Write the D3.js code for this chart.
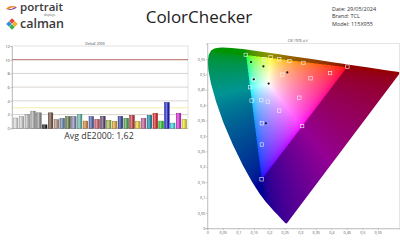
<!DOCTYPE html>
<html>
<head>
<meta charset="utf-8">
<script src="https://cdn.jsdelivr.net/npm/d3@7"></script>
<style>
  body { margin: 0; background: #fff; }
  svg { display: block; font-family: "Open Sans", sans-serif; }
</style>
</head>
<body>
<svg width="400" height="240"></svg>
<script>
// ---- bar chart data (dE2000 per patch) ----
const barColors = ['#dcdcdc', '#cdcdcd', '#b9b9b9', '#a3a3a3', '#8c8c8c', '#141414',
  '#6e4f3e', '#b08a76', '#5f7fa3', '#5a6d3c', '#8280b0', '#5fb8a6', '#d9802e', '#4a5aa8',
  '#c2505e', '#5b3b6c', '#9dba42', '#e0a430', '#2c3a96', '#469a4a', '#b92f36', '#e9c82a',
  '#bb5596', '#0a88a6', '#dd1d1d', '#1ec41e', '#1616c8', '#35d2e2', '#d222d2', '#e6e22a'];
const dE = [1.5, 1.7, 2.0, 2.5, 2.25, 0.5, 2.25, 1.25, 1.45, 1.7, 1.7, 2.05, 1.05, 1.7, 1.3,
  1.75, 1.15, 1.0, 1.75, 1.45, 1.9, 1.0, 1.45, 1.9, 2.2, 1.05, 3.75, 0.75, 2.2, 1.3];
const barTicks = [0, 2, 4, 6, 8, 10, 12];
const avgLabel = 'Avg dE2000: 1,62';

// ---- CIE chart data ----
// CIE 1931 spectral locus (x, y), 380..700 nm
const locusX = [0.1741, 0.1740, 0.1738, 0.1736, 0.1733, 0.1730, 0.1726, 0.1721, 0.1714, 0.1703,
  0.1689, 0.1669, 0.1644, 0.1611, 0.1566, 0.1510, 0.1440, 0.1355, 0.1241, 0.1096, 0.0913,
  0.0687, 0.0454, 0.0235, 0.0082, 0.0039, 0.0139, 0.0389, 0.0743, 0.1142, 0.1547, 0.1929,
  0.2296, 0.2658, 0.3016, 0.3373, 0.3731, 0.4087, 0.4441, 0.4788, 0.5125, 0.5448, 0.5752,
  0.6029, 0.6270, 0.6482, 0.6658, 0.6801, 0.6915, 0.7006, 0.7079, 0.7140, 0.7190, 0.7230,
  0.7260, 0.7283, 0.7300, 0.7311, 0.7320, 0.7334, 0.7344, 0.7347];
const locusY = [0.0050, 0.0050, 0.0049, 0.0049, 0.0048, 0.0048, 0.0048, 0.0048, 0.0051, 0.0058,
  0.0069, 0.0086, 0.0109, 0.0138, 0.0177, 0.0227, 0.0297, 0.0399, 0.0578, 0.0868, 0.1327,
  0.2007, 0.2950, 0.4127, 0.5384, 0.6548, 0.7502, 0.8120, 0.8338, 0.8262, 0.8059, 0.7816,
  0.7543, 0.7243, 0.6923, 0.6589, 0.6245, 0.5896, 0.5547, 0.5202, 0.4866, 0.4544, 0.4242,
  0.3965, 0.3725, 0.3514, 0.3340, 0.3197, 0.3083, 0.2993, 0.2920, 0.2859, 0.2809, 0.2770,
  0.2740, 0.2717, 0.2700, 0.2689, 0.2680, 0.2666, 0.2656, 0.2653];
const gamutUV = [[0.4507, 0.5229], [0.1250, 0.5625], [0.1754, 0.1579]];
const targetsUV = [[0.124, 0.563], [0.184, 0.549], [0.204, 0.555], [0.232, 0.549], [0.265, 0.543],
  [0.310, 0.537], [0.452, 0.525], [0.396, 0.504], [0.333, 0.487], [0.242, 0.499], [0.197, 0.469],
  [0.138, 0.458], [0.149, 0.483], [0.143, 0.415], [0.174, 0.416], [0.195, 0.411], [0.297, 0.424],
  [0.232, 0.382], [0.176, 0.341], [0.306, 0.332], [0.176, 0.272], [0.175, 0.159]];
const measuredUV = [[0.141, 0.540], [0.181, 0.526], [0.258, 0.506], [0.189, 0.341],
  [0.198, 0.470], [0.150, 0.484]];
const cieXTicks = [0, 0.05, 0.1, 0.15, 0.2, 0.25, 0.3, 0.35, 0.4, 0.45, 0.5, 0.55];
const cieYTicks = [0, 0.05, 0.1, 0.15, 0.2, 0.25, 0.3, 0.35, 0.4, 0.45, 0.5, 0.55];

const svg = d3.select('svg');
const comma = d => String(d).replace('.', ',');

// ---- header ----
const logo = svg.append('g');
logo.append('path')
    .attr('d', 'M6,8.5 Q11,4.5 17,7 Q11,6.5 8,9.5 Z')
    .style('fill', '#f08a24');
logo.append('path')
    .attr('d', 'M17,7.5 Q12,11.5 6,9 Q12,9.8 15,7 Z')
    .style('fill', '#7b3fa0');
logo.append('text')
    .attr('x', 20).attr('y', 11)
    .style('font-size', '11.5px').style('font-weight', 600).style('fill', '#3a3a3a')
    .text('portrait');
logo.append('text')
    .attr('x', 44).attr('y', 15.5)
    .style('font-size', '3px').style('fill', '#666')
    .text('displays');
const dia = [['#e9473a', 12, 21], ['#f5b324', 15, 24], ['#3fae4a', 12, 27], ['#2f8fd6', 9, 24]];
logo.selectAll('rect.dia')
    .data(dia)
    .enter()
    .append('rect')
    .attr('class', 'dia')
    .attr('x', d => d[1] - 2).attr('y', d => d[2] - 2)
    .attr('width', 4).attr('height', 4)
    .attr('transform', d => `rotate(45, ${d[1]}, ${d[2]})`)
    .style('fill', d => d[0]);
logo.append('text')
    .attr('x', 20).attr('y', 28)
    .style('font-size', '12.5px').style('font-weight', 600).style('fill', '#3a3a3a')
    .text('calman');

svg.append('text')
    .attr('x', 199).attr('y', 23)
    .attr('text-anchor', 'middle')
    .style('font-size', '17px').style('fill', '#222')
    .text('ColorChecker');

const info = ['Date: 29/05/2024', 'Brand: TCL', 'Model: 115X955'];
svg.selectAll('text.info')
    .data(info)
    .enter()
    .append('text')
    .attr('class', 'info')
    .attr('x', 332)
    .attr('y', (d, i) => 11 + i * 7.3)
    .style('font-size', '5.5px').style('fill', '#333')
    .text(d => d);

// ---- bar chart ----
const bx = d3.scaleBand()
    .domain(d3.range(dE.length))
    .range([12.5, 187.5])
    .paddingInner(0.22)
    .paddingOuter(0.15);
const by = d3.scaleLinear()
    .domain([0, 12])
    .range([128.3, 46]);

const defs = svg.append('defs');
const gloss = defs.append('linearGradient').attr('id', 'gloss');
gloss.append('stop').attr('offset', '0%').attr('stop-color', '#fff').attr('stop-opacity', 0.05);
gloss.append('stop').attr('offset', '40%').attr('stop-color', '#fff').attr('stop-opacity', 0.45);
gloss.append('stop').attr('offset', '100%').attr('stop-color', '#000').attr('stop-opacity', 0.12);

svg.append('rect')
    .attr('x', 12).attr('y', by(12))
    .attr('width', 176).attr('height', by(0) - by(12))
    .style('fill', 'none').style('stroke', '#d0d0d0').style('stroke-width', 0.6);

svg.selectAll('line.grid')
    .data([2, 4, 6, 8])
    .enter()
    .append('line')
    .attr('class', 'grid')
    .attr('x1', 12).attr('x2', 188)
    .attr('y1', d => by(d)).attr('y2', d => by(d))
    .style('stroke', '#c9c2bc').style('stroke-width', 0.7);
svg.append('line')
    .attr('x1', 12).attr('x2', 188)
    .attr('y1', by(10)).attr('y2', by(10))
    .style('stroke', '#a8574e').style('stroke-width', 0.9);
svg.append('line')
    .attr('x1', 12).attr('x2', 188)
    .attr('y1', by(3)).attr('y2', by(3))
    .style('stroke', '#f2ee9a').style('stroke-width', 0.8);

const yAxis = d3.axisLeft(by)
    .tickValues(barTicks)
    .tickSize(1.5)
    .tickFormat(d => d);
const yG = svg.append('g')
    .attr('transform', 'translate(12, 0)')
    .call(yAxis);
yG.select('.domain').style('stroke', '#999').style('stroke-width', 0.5);
yG.selectAll('.tick line').style('stroke', '#999').style('stroke-width', 0.5);
yG.selectAll('.tick text')
    .attr('x', -2)
    .style('font-size', '4.2px').style('fill', '#555').style('font-family', '"Open Sans", sans-serif');

svg.append('line')
    .attr('x1', 12).attr('x2', 188)
    .attr('y1', by(0)).attr('y2', by(0))
    .style('stroke', '#999').style('stroke-width', 0.6);

const bars = svg.selectAll('g.bar')
    .data(dE)
    .enter()
    .append('g')
    .attr('class', 'bar');
bars.append('rect')
    .attr('x', (d, i) => bx(i))
    .attr('y', d => by(d))
    .attr('width', bx.bandwidth())
    .attr('height', d => by(0) - by(d))
    .style('fill', (d, i) => barColors[i])
    .style('stroke', (d, i) => d3.color(barColors[i]).darker(1.2))
    .style('stroke-width', 0.5);
bars.append('rect')
    .attr('x', (d, i) => bx(i))
    .attr('y', d => by(d))
    .attr('width', bx.bandwidth())
    .attr('height', d => by(0) - by(d))
    .style('fill', 'url(#gloss)');

svg.append('text')
    .attr('x', 95).attr('y', 45)
    .attr('text-anchor', 'middle')
    .style('font-size', '3.5px').style('fill', '#444')
    .text('DeltaE 2000');

svg.append('text')
    .attr('x', 99).attr('y', 138.5)
    .attr('text-anchor', 'middle')
    .style('font-size', '8.8px').style('fill', '#333')
    .text(avgLabel);

// ---- CIE 1976 u'v' chart ----
const cx = d3.scaleLinear().domain([0, 0.62]).range([207.3, 399.5]);
const cy = d3.scaleLinear().domain([0, 0.6]).range([228.3, 43.5]);

const toUV = (x, y) => {
  const den = -2 * x + 12 * y + 3;
  return [4 * x / den, 9 * y / den];
};
const locusUV = locusX.map((x, i) => toUV(x, locusY[i]));

defs.append('clipPath').attr('id', 'locusClip')
    .append('path')
    .attr('d', d3.line().x(d => cx(d[0])).y(d => cy(d[1]))(locusUV) + 'Z');
defs.append('clipPath').attr('id', 'plotClip')
    .append('rect')
    .attr('x', cx(0)).attr('y', cy(0.6))
    .attr('width', cx(0.62) - cx(0)).attr('height', cy(0) - cy(0.6));

// colour field of the horseshoe, computed per pixel from the scales
const x0 = Math.floor(cx(0)), y0 = Math.floor(cy(0.6));
const w = Math.ceil(cx(0.62)) - x0, h = Math.ceil(cy(0)) - y0;
const canvas = document.createElement('canvas');
canvas.width = w * 2; canvas.height = h * 2;
const ctx = canvas.getContext('2d');
const img = ctx.createImageData(canvas.width, canvas.height);
const gamutPx = gamutUV.map(d => [d[0], d[1]]);
const enc = c => c <= 0.0031308 ? 12.92 * c : 1.055 * Math.pow(c, 1 / 2.4) - 0.055;
for (let j = 0; j < canvas.height; j++) {
  for (let i = 0; i < canvas.width; i++) {
    const u = cx.invert(x0 + (i + 0.5) / 2);
    const v = Math.max(cy.invert(y0 + (j + 0.5) / 2), 0.004);
    const den = 6 * u - 16 * v + 12;
    const xx = 9 * u / den, yy = 4 * v / den;
    const X = xx / yy, Z = (1 - xx - yy) / yy;
    let r = Math.max(0, 3.2406 * X - 1.5372 - 0.4986 * Z);
    let g = Math.max(0, -0.9689 * X + 1.8758 + 0.0415 * Z);
    let b = Math.max(0, 0.0557 * X - 0.2040 + 1.0570 * Z);
    const m = Math.max(r, g, b) || 1;
    const k = d3.polygonContains(gamutPx, [u, v]) ? 1 : 0.58;
    const p = (j * canvas.width + i) * 4;
    img.data[p] = 255 * enc(r / m) * k;
    img.data[p + 1] = 255 * enc(g / m) * k;
    img.data[p + 2] = 255 * enc(b / m) * k;
    img.data[p + 3] = 255;
  }
}
ctx.putImageData(img, 0, 0);

const cie = svg.append('g').attr('clip-path', 'url(#plotClip)');
cie.append('image')
    .attr('href', canvas.toDataURL())
    .attr('x', x0).attr('y', y0)
    .attr('width', w).attr('height', h)
    .attr('preserveAspectRatio', 'none')
    .attr('clip-path', 'url(#locusClip)');

cie.selectAll('rect.target')
    .data(targetsUV)
    .enter()
    .append('rect')
    .attr('class', 'target')
    .attr('x', d => cx(d[0]) - 1.7)
    .attr('y', d => cy(d[1]) - 1.7)
    .attr('width', 3.4).attr('height', 3.4)
    .style('fill', 'none').style('stroke', '#f4f4f4').style('stroke-width', 0.6);
cie.selectAll('circle.meas')
    .data(measuredUV)
    .enter()
    .append('circle')
    .attr('class', 'meas')
    .attr('cx', d => cx(d[0]))
    .attr('cy', d => cy(d[1]))
    .attr('r', 1.1)
    .style('fill', '#111');

svg.append('rect')
    .attr('x', cx(0)).attr('y', cy(0.6))
    .attr('width', cx(0.62) - cx(0)).attr('height', cy(0) - cy(0.6))
    .style('fill', 'none').style('stroke', '#d4d4d4').style('stroke-width', 0.6);

const cxAxis = d3.axisBottom(cx).tickValues(cieXTicks).tickSize(1.5).tickFormat(comma);
const cxG = svg.append('g').attr('transform', `translate(0, ${cy(0)})`).call(cxAxis);
const cyAxis = d3.axisLeft(cy).tickValues(cieYTicks).tickSize(1.5).tickFormat(comma);
const cyG = svg.append('g').attr('transform', `translate(${cx(0)}, 0)`).call(cyAxis);
[cxG, cyG].forEach(g => {
  g.select('.domain').style('stroke', '#999').style('stroke-width', 0.5);
  g.selectAll('.tick line').style('stroke', '#999').style('stroke-width', 0.5);
  g.selectAll('.tick text')
      .style('font-size', '3.8px').style('fill', '#555')
      .style('font-family', '"Open Sans", sans-serif');
});
cxG.selectAll('.tick text').attr('y', 3);
cyG.selectAll('.tick text').attr('x', -2);

svg.append('text')
    .attr('x', 298).attr('y', 42)
    .attr('text-anchor', 'middle')
    .style('font-size', '3.5px').style('fill', '#444')
    .text("CIE 1976 u'v'");
</script>
</body>
</html>
